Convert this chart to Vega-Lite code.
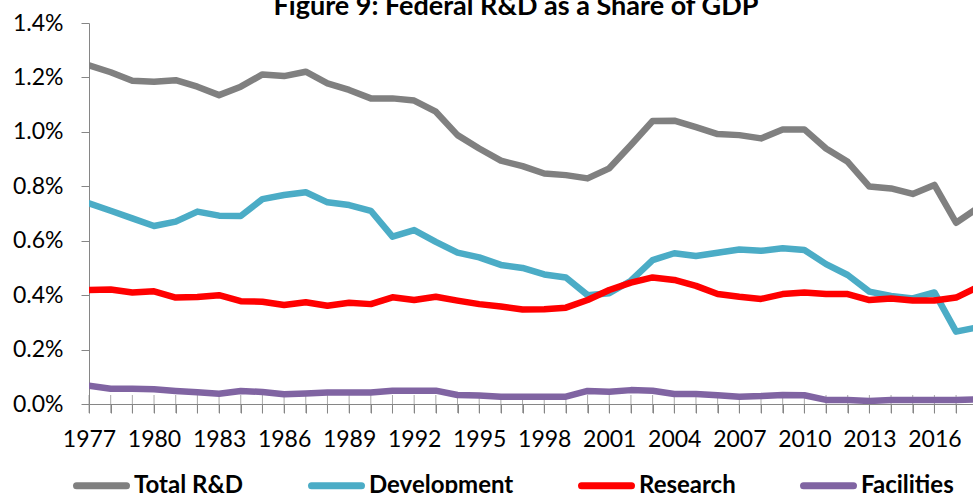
{
  "$schema": "https://vega.github.io/schema/vega-lite/v6.json",
  "autosize": "none",
  "width": 884,
  "height": 381,
  "padding": {"left": 89, "top": 23, "right": 0, "bottom": 89},
  "background": "white",
  "config": {
    "view": {"stroke": null},
    "font": "Lato",
    "axisX": {"title": null, "grid": false, "domainColor": "#868686", "tickColor": "#868686", "tickSize": 9, "labelFont": "Lato", "labelFontSize": 23, "labelColor": "black", "labelPadding": 15, "labelOverlap": false, "labelFlush": false},
    "axisY": {"title": null, "domainColor": "#868686", "tickColor": "#868686", "tickSize": 8, "labelFont": "Lato", "labelFontSize": 23, "labelColor": "black", "labelPadding": 18, "gridColor": "#868686", "gridDash": [1, 1], "gridWidth": 1}
  },
  "title": {"text": "Figure 9: Federal R&D as a Share of GDP", "font": "Lato", "fontSize": 27, "fontWeight": "bold", "color": "black", "anchor": "middle", "frame": "group", "dx": -15, "offset": 4, "dy": 13},
  "data": {"values": [
    {"year": 1977, "Total R&D": 1.244, "Development": 0.737, "Research": 0.419, "Facilities": 0.067},
    {"year": 1978, "Total R&D": 1.219, "Development": 0.710, "Research": 0.421, "Facilities": 0.056},
    {"year": 1979, "Total R&D": 1.188, "Development": 0.682, "Research": 0.410, "Facilities": 0.056},
    {"year": 1980, "Total R&D": 1.184, "Development": 0.654, "Research": 0.414, "Facilities": 0.054},
    {"year": 1981, "Total R&D": 1.190, "Development": 0.670, "Research": 0.391, "Facilities": 0.048},
    {"year": 1982, "Total R&D": 1.166, "Development": 0.707, "Research": 0.393, "Facilities": 0.043},
    {"year": 1983, "Total R&D": 1.135, "Development": 0.692, "Research": 0.400, "Facilities": 0.038},
    {"year": 1984, "Total R&D": 1.166, "Development": 0.691, "Research": 0.378, "Facilities": 0.048},
    {"year": 1985, "Total R&D": 1.211, "Development": 0.753, "Research": 0.376, "Facilities": 0.044},
    {"year": 1986, "Total R&D": 1.205, "Development": 0.768, "Research": 0.364, "Facilities": 0.036},
    {"year": 1987, "Total R&D": 1.221, "Development": 0.778, "Research": 0.374, "Facilities": 0.039},
    {"year": 1988, "Total R&D": 1.178, "Development": 0.741, "Research": 0.361, "Facilities": 0.042},
    {"year": 1989, "Total R&D": 1.154, "Development": 0.731, "Research": 0.372, "Facilities": 0.042},
    {"year": 1990, "Total R&D": 1.123, "Development": 0.710, "Research": 0.367, "Facilities": 0.042},
    {"year": 1991, "Total R&D": 1.123, "Development": 0.615, "Research": 0.392, "Facilities": 0.049},
    {"year": 1992, "Total R&D": 1.115, "Development": 0.639, "Research": 0.382, "Facilities": 0.049},
    {"year": 1993, "Total R&D": 1.074, "Development": 0.596, "Research": 0.394, "Facilities": 0.049},
    {"year": 1994, "Total R&D": 0.988, "Development": 0.556, "Research": 0.380, "Facilities": 0.033},
    {"year": 1995, "Total R&D": 0.939, "Development": 0.539, "Research": 0.367, "Facilities": 0.031},
    {"year": 1996, "Total R&D": 0.894, "Development": 0.511, "Research": 0.358, "Facilities": 0.027},
    {"year": 1997, "Total R&D": 0.874, "Development": 0.500, "Research": 0.347, "Facilities": 0.027},
    {"year": 1998, "Total R&D": 0.847, "Development": 0.476, "Research": 0.348, "Facilities": 0.027},
    {"year": 1999, "Total R&D": 0.841, "Development": 0.465, "Research": 0.354, "Facilities": 0.027},
    {"year": 2000, "Total R&D": 0.829, "Development": 0.400, "Research": 0.382, "Facilities": 0.048},
    {"year": 2001, "Total R&D": 0.866, "Development": 0.407, "Research": 0.419, "Facilities": 0.045},
    {"year": 2002, "Total R&D": 0.952, "Development": 0.453, "Research": 0.446, "Facilities": 0.051},
    {"year": 2003, "Total R&D": 1.040, "Development": 0.529, "Research": 0.465, "Facilities": 0.049},
    {"year": 2004, "Total R&D": 1.041, "Development": 0.554, "Research": 0.456, "Facilities": 0.037},
    {"year": 2005, "Total R&D": 1.017, "Development": 0.544, "Research": 0.434, "Facilities": 0.037},
    {"year": 2006, "Total R&D": 0.992, "Development": 0.556, "Research": 0.404, "Facilities": 0.032},
    {"year": 2007, "Total R&D": 0.988, "Development": 0.568, "Research": 0.394, "Facilities": 0.027},
    {"year": 2008, "Total R&D": 0.976, "Development": 0.563, "Research": 0.386, "Facilities": 0.029},
    {"year": 2009, "Total R&D": 1.009, "Development": 0.572, "Research": 0.404, "Facilities": 0.033},
    {"year": 2010, "Total R&D": 1.009, "Development": 0.566, "Research": 0.410, "Facilities": 0.032},
    {"year": 2011, "Total R&D": 0.939, "Development": 0.514, "Research": 0.404, "Facilities": 0.015},
    {"year": 2012, "Total R&D": 0.890, "Development": 0.474, "Research": 0.404, "Facilities": 0.015},
    {"year": 2013, "Total R&D": 0.799, "Development": 0.413, "Research": 0.382, "Facilities": 0.011},
    {"year": 2014, "Total R&D": 0.792, "Development": 0.397, "Research": 0.388, "Facilities": 0.015},
    {"year": 2015, "Total R&D": 0.772, "Development": 0.388, "Research": 0.380, "Facilities": 0.015},
    {"year": 2016, "Total R&D": 0.805, "Development": 0.410, "Research": 0.380, "Facilities": 0.015},
    {"year": 2017, "Total R&D": 0.666, "Development": 0.266, "Research": 0.391, "Facilities": 0.015},
    {"year": 2018, "Total R&D": 0.720, "Development": 0.282, "Research": 0.430, "Facilities": 0.017}
  ]},
  "encoding": {
    "x": {
      "field": "year", "type": "quantitative",
      "scale": {"domain": [1977, 2017.78], "nice": false, "zero": false},
      "axis": {
        "values": [1977,1978,1979,1980,1981,1982,1983,1984,1985,1986,1987,1988,1989,1990,1991,1992,1993,1994,1995,1996,1997,1998,1999,2000,2001,2002,2003,2004,2005,2006,2007,2008,2009,2010,2011,2012,2013,2014,2015,2016,2017],
        "labelExpr": "(datum.value - 1977) % 3 == 0 ? '' + datum.value : ''"
      }
    }
  },
  "layer": [
    {
      "mark": {"type": "tick", "orient": "vertical", "size": 18, "thickness": 1, "color": "#868686"},
      "encoding": {
        "y": {"datum": 0, "type": "quantitative", "scale": {"domain": [0, 1.4], "nice": false},
          "axis": {"values": [0, 0.2, 0.4, 0.6, 0.8, 1.0, 1.2, 1.4], "labelExpr": "format(datum.value, '.1f') + '%'",
            "gridOpacity": {"condition": {"test": "datum.value > 1.39 || datum.value < 0.01", "value": 0}, "value": 1}}}
      }
    },
    {
      "transform": [{"fold": ["Total R&D", "Development", "Research", "Facilities"], "as": ["series", "value"]}],
      "mark": {"type": "line", "strokeWidth": 6.5, "strokeJoin": "round", "strokeCap": "round", "clip": true},
      "encoding": {
        "y": {"field": "value", "type": "quantitative", "scale": {"domain": [0, 1.4], "nice": false},
          "axis": {"values": [0, 0.2, 0.4, 0.6, 0.8, 1.0, 1.2, 1.4], "labelExpr": "format(datum.value, '.1f') + '%'",
            "gridOpacity": {"condition": {"test": "datum.value > 1.39 || datum.value < 0.01", "value": 0}, "value": 1}}},
        "color": {
          "field": "series", "type": "nominal",
          "scale": {"domain": ["Total R&D", "Development", "Research", "Facilities"], "range": ["#808080", "#4BACC6", "#FF0000", "#8064A2"]},
          "legend": {
            "orient": "none", "legendX": -16, "legendY": 434, "direction": "horizontal", "title": null,
            "symbolType": "stroke", "symbolSize": 2500, "symbolStrokeWidth": 7,
            "labelFont": "Lato", "labelFontSize": 24, "labelFontWeight": "bold", "labelColor": "black",
            "labelOffset": 4, "columnPadding": 53, "labelLimit": 0,
            "encode": {"symbols": {"update": {"strokeCap": {"value": "round"}}}}
          }
        }
      }
    }
  ]
}
